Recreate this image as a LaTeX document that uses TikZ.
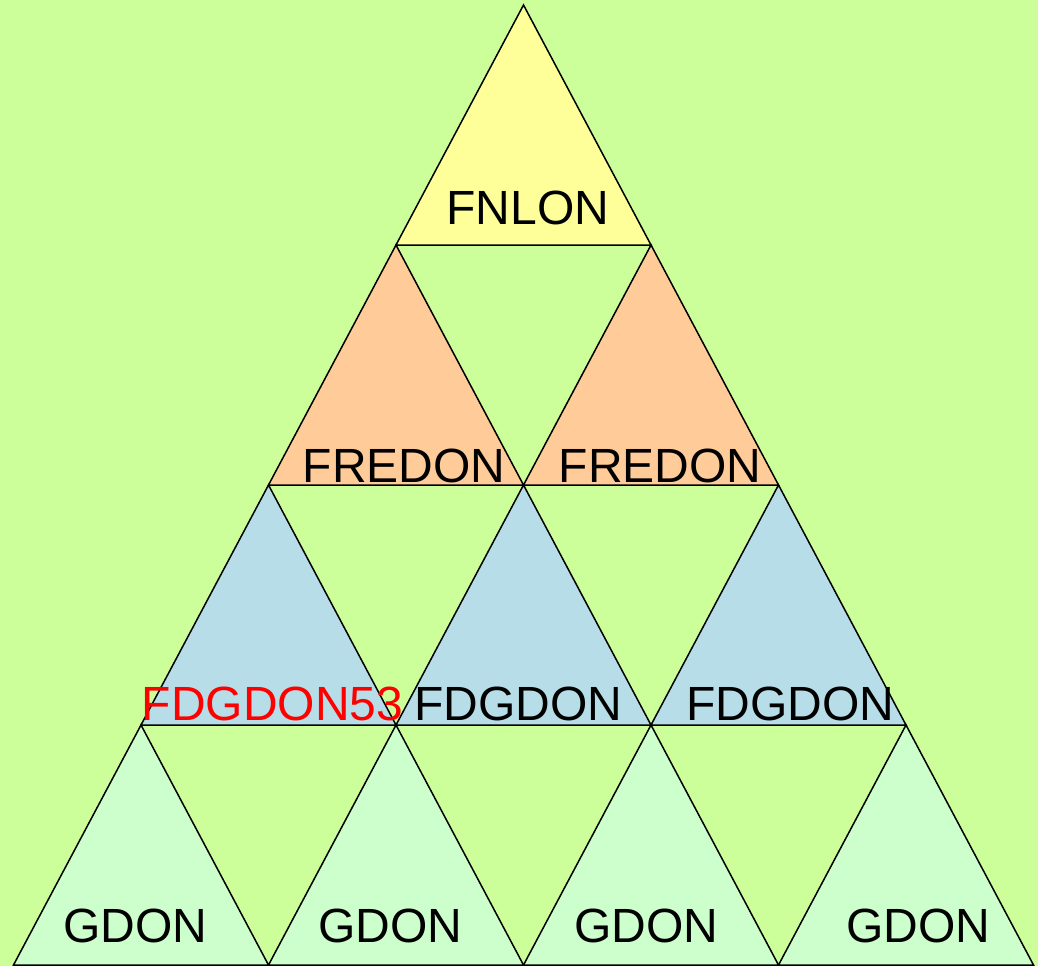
\documentclass[tikz,border=0pt]{standalone}
\usepackage{fontspec}
\setmainfont{Liberation Sans}
\usetikzlibrary{calc}
\definecolor{bggreen}{HTML}{CCFF99}
\definecolor{topyellow}{HTML}{FFFF99}
\definecolor{peach}{HTML}{FFCC99}
\definecolor{paleblue}{HTML}{B7DEE8}
\definecolor{palegreen}{HTML}{CCFFCC}
\tikzset{
  lbl/.style={anchor=base, inner sep=0pt, font=\fontsize{48}{56}\selectfont},
  tri/.style={line width=1.5pt, line join=miter}
}

\begin{document}
\begin{tikzpicture}[x=1pt, y=-1pt]
    \useasboundingbox (0,0) rectangle (1038,966);
    \fill[bggreen] (0,0) rectangle (1038,966);
    \def\w{255}
    \def\h{240}
    \def\cx{523.5}
    \def\apexy{5}
    % rows of triangles, top to bottom
    \foreach[count=\r from 0] \col in {topyellow, peach, paleblue, palegreen}
    {
        \foreach \k in {0,...,\r}
        {
            \coordinate (apex) at ({\cx+(\k-\r/2)*\w}, {\apexy+\r*\h});
            \filldraw [tri, fill=\col] (apex) -- ++(\w/2,\h) -- ++(-\w,0) -- cycle;
        }
    }
    % labels
    \node [lbl] (fnlon) at (528,224) {FNLON};
    \node [lbl] (fredon1) at (404,482) {FREDON};
    \node [lbl] (fredon2) at (660,482) {FREDON};
    \node [lbl, text=red] (fdgdon1) at (272.5,720) {FDGDON53};
    \node [lbl] (fdgdon2) at (518.5,720) {FDGDON};
    \node [lbl] (fdgdon3) at (790,720) {FDGDON};
    \node [lbl] (gdon1) at (135,942) {GDON};
    \node [lbl] (gdon2) at (390.5,942) {GDON};
    \node [lbl] (gdon3) at (646.5,942) {GDON};
    \node [lbl] (gdon4) at (918,942) {GDON};
\end{tikzpicture}
\end{document}
